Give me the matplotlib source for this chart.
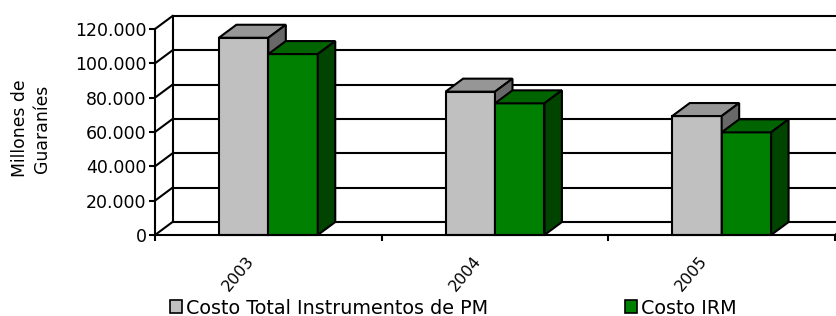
import matplotlib
matplotlib.use("Agg")
import matplotlib.pyplot as plt
from matplotlib.patches import Polygon, Patch
from matplotlib.ticker import FuncFormatter

plt.rcParams['font.family'] = ['DejaVu Sans']

categories = ["2003", "2004", "2005"]
series_names = ["Costo Total Instrumentos de PM", "Costo IRM"]
costo_total = [114900, 83500, 69300]
costo_irm = [105400, 76700, 59800]
yticks = [0, 20000, 40000, 60000, 80000, 100000, 120000]

W, H = 836, 316
fig = plt.figure(figsize=(W / 100, H / 100), dpi=100)
ax = fig.add_axes([155 / W, (H - 235) / H, 680 / W, 206 / H])
ax.set_xlim(0, 3)
ax.set_ylim(0, 120000)
ax.set_facecolor('none')

LW = 1.5
# depth offsets (pixels -> data units)
px_x = 3 / 680
px_y = 120000 / 206
ddx, ddy = 17.5 * px_x, 13 * px_y

# walls / gridlines
for v in yticks:
    ax.plot([ddx, 3 + ddx + 0.2], [v + ddy, v + ddy], color='black', lw=LW,
            clip_on=False, zorder=1, solid_capstyle='butt')
    ax.plot([0, ddx], [v, v + ddy], color='black', lw=LW, clip_on=False, zorder=1)
ax.plot([ddx, ddx], [ddy, 120000 + ddy], color='black', lw=LW, clip_on=False, zorder=1)
ax.plot([3, 3 + ddx], [0, ddy], color='black', lw=LW, clip_on=False, zorder=1)

# bars
bw = 49.5 / 227
styles = [
    ('#C0C0C0', '#969696', '#686868'),
    ('#008000', '#006400', '#004400'),
]
z = 3
for i in range(len(categories)):
    for s, vals in enumerate([costo_total, costo_irm]):
        x0 = i + 0.5 - bw + s * bw
        x1 = x0 + bw
        v = vals[i]
        front, top, side = styles[s]
        faces = [
            ([(x0, 0), (x1, 0), (x1, v), (x0, v)], front),
            ([(x0, v), (x1, v), (x1 + ddx, v + ddy), (x0 + ddx, v + ddy)], top),
            ([(x1, 0), (x1 + ddx, ddy), (x1 + ddx, v + ddy), (x1, v)], side),
        ]
        for pts, col in faces:
            ax.add_patch(Polygon(pts, closed=True, facecolor=col, edgecolor='black',
                                 lw=LW, joinstyle='miter', clip_on=False, zorder=z))
        z += 1

# axes spines and ticks
for sp in ['top', 'right']:
    ax.spines[sp].set_visible(False)
for sp in ['left', 'bottom']:
    ax.spines[sp].set_linewidth(LW)
    ax.spines[sp].set_zorder(20)
ax.set_yticks(yticks)
ax.yaxis.set_major_formatter(FuncFormatter(lambda v, p: f"{v:,.0f}".replace(",", ".")))
ax.set_xticks([0, 1, 2, 3])
ax.set_xticklabels([])
ax.tick_params(axis='both', direction='out', length=4, width=LW, labelsize=12.5, pad=2)

for i, c in enumerate(categories):
    ax.annotate(c, xy=(i + 0.5, 0), xytext=(-30 * 0.72, -39 * 0.72),
                textcoords='offset points', ha='center', va='center',
                rotation=50, fontsize=11.5)

fig.text(31 / W, (H - 128.5) / H, "Millones de\nGuaraníes", rotation=90,
         ha='center', va='center', ma='center', fontsize=12.4, linespacing=1.25)

# legend
anchors = [170, 625]
for s, name in enumerate(series_names):
    h = Patch(facecolor=styles[s][0], edgecolor='black', lw=1.2)
    fig.legend([h], [name], loc='center left',
               bbox_to_anchor=(anchors[s] / W, (H - 308) / H),
               frameon=False, borderpad=0, borderaxespad=0,
               handlelength=0.65, handleheight=0.65, handletextpad=0.2,
               fontsize=13.8)

fig.savefig("out.png", dpi=100)
